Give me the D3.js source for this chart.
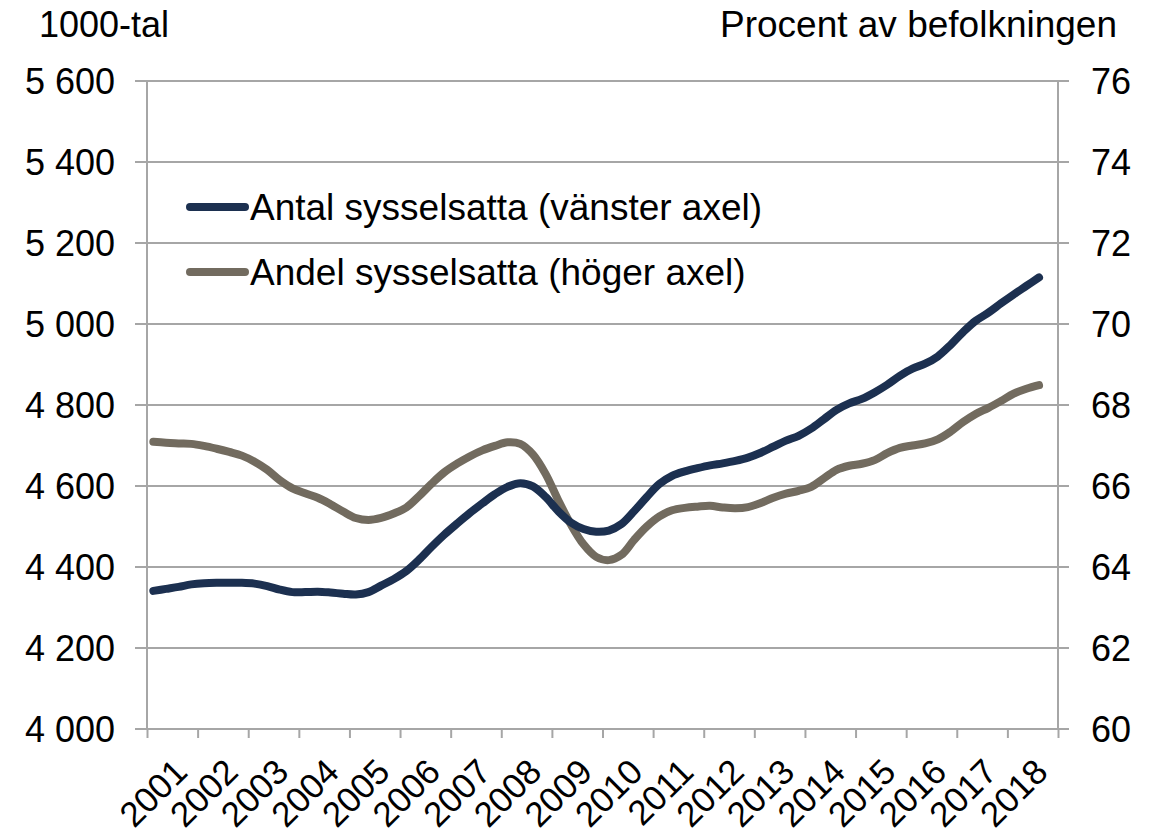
<!DOCTYPE html>
<html>
<head>
<meta charset="utf-8">
<script src="https://cdn.jsdelivr.net/npm/d3@7"></script>
<style>
  html, body { margin: 0; padding: 0; background: #fff; }
  svg { display: block; font-family: "Liberation Sans", Arial, sans-serif; }
</style>
</head>
<body>
<svg id="chart" width="1160" height="833"></svg>
<script>
const years = ["2001","2002","2003","2004","2005","2006","2007","2008","2009","2010","2011","2012","2013","2014","2015","2016","2017","2018"];
const leftTicks = [4000, 4200, 4400, 4600, 4800, 5000, 5200, 5400, 5600];
const rightTicks = [60, 62, 64, 66, 68, 70, 72, 74, 76];
const seriesNames = ["Antal sysselsatta (vänster axel)", "Andel sysselsatta (höger axel)"];
const leftTitle = "1000-tal";
const rightTitle = "Procent av befolkningen";

// Quarterly, 2001 Q1 – 2018 Q3
const antal = [4341,4346,4351,4357,4360,4361,4361,4361,4359,4353,
               4344,4338,4338,4339,4337,4334,4332,4338,4354,4370,
               4390,4418,4450,4480,4507,4533,4557,4580,4598,4607,
               4599,4573,4538,4510,4494,4487,4490,4506,4538,4573,
               4605,4625,4636,4644,4651,4656,4662,4670,4682,4697,
               4712,4724,4742,4765,4788,4804,4815,4831,4850,4872,
               4890,4902,4920,4948,4980,5008,5028,5051,5073,5094,
               5115];
const andel = [67.09,67.07,67.05,67.04,66.99,66.92,66.84,66.75,66.60,66.40,
               66.14,65.94,65.82,65.71,65.55,65.37,65.21,65.16,65.21,65.32,
               65.47,65.75,66.06,66.34,66.55,66.73,66.88,66.99,67.08,67.04,
               66.78,66.30,65.65,65.05,64.56,64.25,64.17,64.30,64.67,65.00,
               65.25,65.40,65.46,65.49,65.51,65.47,65.45,65.48,65.58,65.71,
               65.81,65.88,65.98,66.19,66.40,66.50,66.55,66.64,66.81,66.94,
               67.00,67.05,67.15,67.34,67.58,67.78,67.93,68.10,68.28,68.40,
               68.49];

const colors = ["#1c3050", "#726b5f"];
const gridColor = "#a6a6a6";

const L = 147, R = 1058, T = 81, B = 729;
const svg = d3.select("#chart");

const firstYear = +years[0];
const x = d3.scaleLinear().domain([firstYear, firstYear + years.length]).range([L, R]);
const yL = d3.scaleLinear().domain([4000, 5600]).range([B, T]);
const yR = d3.scaleLinear().domain([60, 76]).range([B, T]);

const fmt = d3.formatLocale({decimal: ",", thousands: " ", grouping: [3], currency: ["", ""]}).format(",");

// Gridlines
svg.append("g").selectAll("line").data(leftTicks).join("line")
  .attr("x1", L - 12).attr("x2", R + 11)
  .attr("y1", d => yL(d)).attr("y2", d => yL(d))
  .attr("stroke", gridColor).attr("stroke-width", 2);

// Vertical axis lines
svg.append("line").attr("x1", L).attr("x2", L).attr("y1", T).attr("y2", B)
  .attr("stroke", gridColor).attr("stroke-width", 2);
svg.append("line").attr("x1", R).attr("x2", R).attr("y1", T).attr("y2", B)
  .attr("stroke", gridColor).attr("stroke-width", 2);

// Left axis labels
svg.append("g").selectAll("text").data(leftTicks).join("text")
  .attr("x", 115).attr("y", d => yL(d)).attr("dy", "0.35em")
  .attr("text-anchor", "end").attr("font-size", 36).attr("fill", "#000")
  .text(d => fmt(d));

// Right axis labels
svg.append("g").selectAll("text").data(rightTicks).join("text")
  .attr("x", 1091).attr("y", d => yR(d)).attr("dy", "0.35em")
  .attr("text-anchor", "start").attr("font-size", 36).attr("fill", "#000")
  .text(d => d);

// Axis titles
svg.append("text").attr("x", 39).attr("y", 37).attr("font-size", 36).text(leftTitle);
svg.append("text").attr("x", 1117).attr("y", 37).attr("text-anchor", "end").attr("font-size", 37).text(rightTitle);

// X axis ticks
const xAxis = d3.axisBottom(x)
  .tickValues(d3.range(firstYear, firstYear + years.length + 1))
  .tickSize(9).tickSizeOuter(0).tickFormat("");
const gx = svg.append("g").attr("transform", `translate(0,${B})`).call(xAxis);
gx.select(".domain").remove();
gx.selectAll(".tick line").attr("stroke", gridColor).attr("stroke-width", 2);

// X labels
svg.append("g").selectAll("text").data(years).join("text")
  .attr("transform", d => `translate(${x(+d + 0.5) + 17},${B + 45}) rotate(-45)`)
  .attr("text-anchor", "end").attr("font-size", 35).attr("fill", "#000")
  .text(d => d);

// Lines
const xq = i => x(firstYear + (i + 0.5) / 4);
const lineL = d3.line().x((d, i) => xq(i)).y(d => yL(d)).curve(d3.curveCatmullRom.alpha(0.5));
const lineR = d3.line().x((d, i) => xq(i)).y(d => yR(d)).curve(d3.curveCatmullRom.alpha(0.5));

svg.append("path").datum(andel).attr("d", lineR)
  .attr("fill", "none").attr("stroke", colors[1]).attr("stroke-width", 8)
  .attr("stroke-linecap", "round").attr("stroke-linejoin", "round");
svg.append("path").datum(antal).attr("d", lineL)
  .attr("fill", "none").attr("stroke", colors[0]).attr("stroke-width", 8)
  .attr("stroke-linecap", "round").attr("stroke-linejoin", "round");

// Legend
const leg = svg.append("g").selectAll("g").data(seriesNames).join("g")
  .attr("transform", (d, i) => `translate(0,${207 + i * 65})`);
leg.append("line").attr("x1", 190).attr("x2", 245).attr("y1", 0).attr("y2", 0)
  .attr("stroke", (d, i) => colors[i]).attr("stroke-width", 8).attr("stroke-linecap", "round");
leg.append("text").attr("x", 250).attr("y", 0).attr("dy", "0.35em")
  .attr("font-size", 37).attr("fill", "#000").text(d => d);
</script>
</body>
</html>
